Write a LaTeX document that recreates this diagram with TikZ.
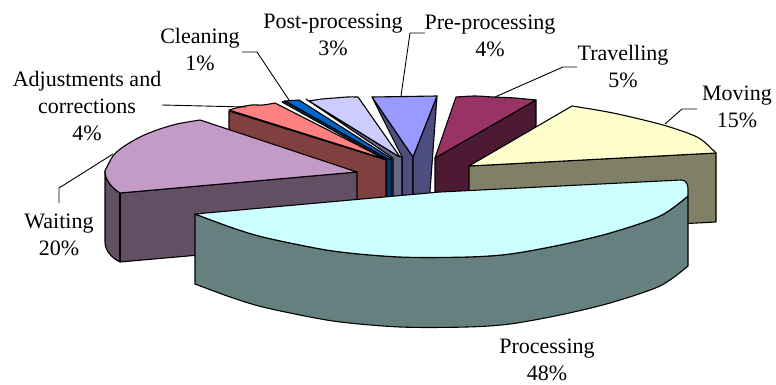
\documentclass[tikz,border=0pt]{standalone}
\usepackage{fontspec}
\setmainfont{Liberation Serif}
\definecolor{procTop}{HTML}{CCFFFF}
\definecolor{procSide}{HTML}{668080}
\definecolor{movTop}{HTML}{FFFFCC}
\definecolor{movSide}{HTML}{808066}
\definecolor{waitTop}{HTML}{C49AC6}
\definecolor{waitSide}{HTML}{634F63}
\definecolor{adjTop}{HTML}{FF8080}
\definecolor{adjSide}{HTML}{804040}
\definecolor{clnTop}{HTML}{0066CC}
\definecolor{clnSide}{HTML}{003366}
\definecolor{postTop}{HTML}{CCCCFF}
\definecolor{postSide}{HTML}{666688}
\definecolor{preTop}{HTML}{9999FF}
\definecolor{preSide}{HTML}{4D4D80}
\definecolor{travTop}{HTML}{993366}
\definecolor{travSide}{HTML}{4D1A33}
\tikzset{
  face/.style={draw=black, line width=1.1pt, line join=round},
  leader/.style={draw=black, line width=0.9pt, line join=miter},
  lbl/.style={font=\fontsize{22}{27}\selectfont, align=center, inner sep=0pt, anchor=north}
}
\begin{document}
\begin{tikzpicture}[x=1pt,y=-1pt]
\useasboundingbox (0,0) rectangle (776,385);

% Pre-processing
\filldraw[face, fill=preSide] (372,97) -- (402,157) -- (402,205) -- (413,205) -- (413,157) -- cycle;
\filldraw[face, fill=preSide] (437,96) -- (413,157) -- (413,205) -- (429,205) -- cycle;
\filldraw[face, fill=preTop] (372,97) -- (437,96) -- (413,157) -- cycle;

% Post-processing
\filldraw[face, fill=postSide] (306,99) -- (393,158) -- (393,205) -- (402,205) -- (402,157) -- (398,156) -- (309,101) -- cycle;
\filldraw[face, fill=postTop] plot[smooth] coordinates {(309,101) (322,99) (335,98) (347,97) (358,97)} -- (400,157) -- (398,156) -- cycle;

% Cleaning
\filldraw[face, fill=clnSide] (282,102) -- (386,160) -- (386,205) -- (392,205) -- (392,159) -- (285,101) -- cycle;
\filldraw[face, fill=clnTop] (285,101) -- (299,100) -- (392,159) -- (388,159) -- cycle;

% Adjustments and corrections
\filldraw[face, fill=adjSide] (229,111) -- (386,160) -- (386,205) -- (229,205) -- cycle;
\filldraw[face, fill=adjTop] plot[smooth] coordinates {(229,110) (240,107) (252,105) (263,105) (275,103)} -- (385,159) -- cycle;

% Travelling
\filldraw[face, fill=travSide] (536,100) -- (536,200) -- (435,200) -- (435,158) -- cycle;
\filldraw[face, fill=travTop] (435,158) -- plot[smooth] coordinates {(456,97) (475,96) (493,97) (515,98) (536,100)} -- cycle;

% Waiting
\filldraw[face, fill=waitSide] (105,171) -- (105,242) .. controls (105,251) and (112,258) .. (120,262) -- (357,241) -- (357,172) -- (120,193) .. controls (112,188) and (105,180) .. (105,171) -- cycle;
\draw[face] (120,193) -- (120,262);
\filldraw[face, fill=waitTop] (120,193) .. controls (112,188) and (105,180) .. (105,171) -- plot[smooth] coordinates {(105,171) (113,156) (123,147) (140,137) (157,130) (177,124) (200,120)} -- (357,172) -- cycle;

% Moving
\filldraw[face, fill=movSide] (469,166) -- (716,153) -- (716,222) -- (469,235) -- cycle;
\filldraw[face, fill=movTop] (469,166) -- plot[smooth] coordinates {(572,106) (613,113) (663,125) (697,137) (713,150) (716,153)} -- cycle;

% Processing
\filldraw[face, fill=procSide] plot[smooth] coordinates {(195,214) (233,228) (267,238) (333,251) (400,257) (467,257) (510,254) (560,245) (610,233) (660,216) (688,196)} -- plot[smooth] coordinates {(688,266) (660,286) (610,303) (560,315) (510,324) (467,327) (400,327) (333,321) (267,308) (233,298) (195,284)} -- cycle;
\filldraw[face, fill=procTop] (195,214) -- (440,192) -- (681,180) .. controls (686,180) and (688,184) .. (688,189) -- plot[smooth] coordinates {(688,196) (660,216) (610,233) (560,245) (510,254) (467,257) (400,257) (333,251) (267,238) (233,228) (195,214)} -- cycle;

% Labels
\node[lbl] (lclean) at (200,28) {Cleaning\\1\%};
\node[lbl] (lpost) at (333,14) {Post-processing\\3\%};
\node[lbl] (lpre) at (490,15) {Pre-processing\\4\%};
\node[lbl] (ltrav) at (623,45) {Travelling\\5\%};
\node[lbl] (lmov) at (737,86) {Moving\\15\%};
\node[lbl] (ladj) at (87,71) {Adjustments and\\corrections\\4\%};
\node[lbl] (lwait) at (59,214) {Waiting\\20\%};
\node[lbl] (lproc) at (547,339) {Processing\\48\%};

% Leader coordinates
\coordinate (cA) at (242,52); \coordinate (cB) at (257,52); \coordinate (cT) at (289,100);
\coordinate (aA) at (162,105); \coordinate (aT) at (246,107);
\coordinate (pA) at (425,33); \coordinate (pB) at (410,33); \coordinate (pT) at (401,96);
\coordinate (tA) at (577,67); \coordinate (tB) at (563,67); \coordinate (tT) at (495,97);
\coordinate (mA) at (697,109); \coordinate (mB) at (682,109); \coordinate (mT) at (665,124);
\coordinate (wA) at (59,203); \coordinate (wB) at (59,188); \coordinate (wT) at (113,154);

\draw[leader] (cA) -- (cB) -- (cT);
\draw[leader] (aA) -- (aT);
\draw[leader] (pA) -- (pB) -- (pT);
\draw[leader] (tA) -- (tB) -- (tT);
\draw[leader] (mA) -- (mB) -- (mT);
\draw[leader] (wA) -- (wB) -- (wT);
\end{tikzpicture}
\end{document}
